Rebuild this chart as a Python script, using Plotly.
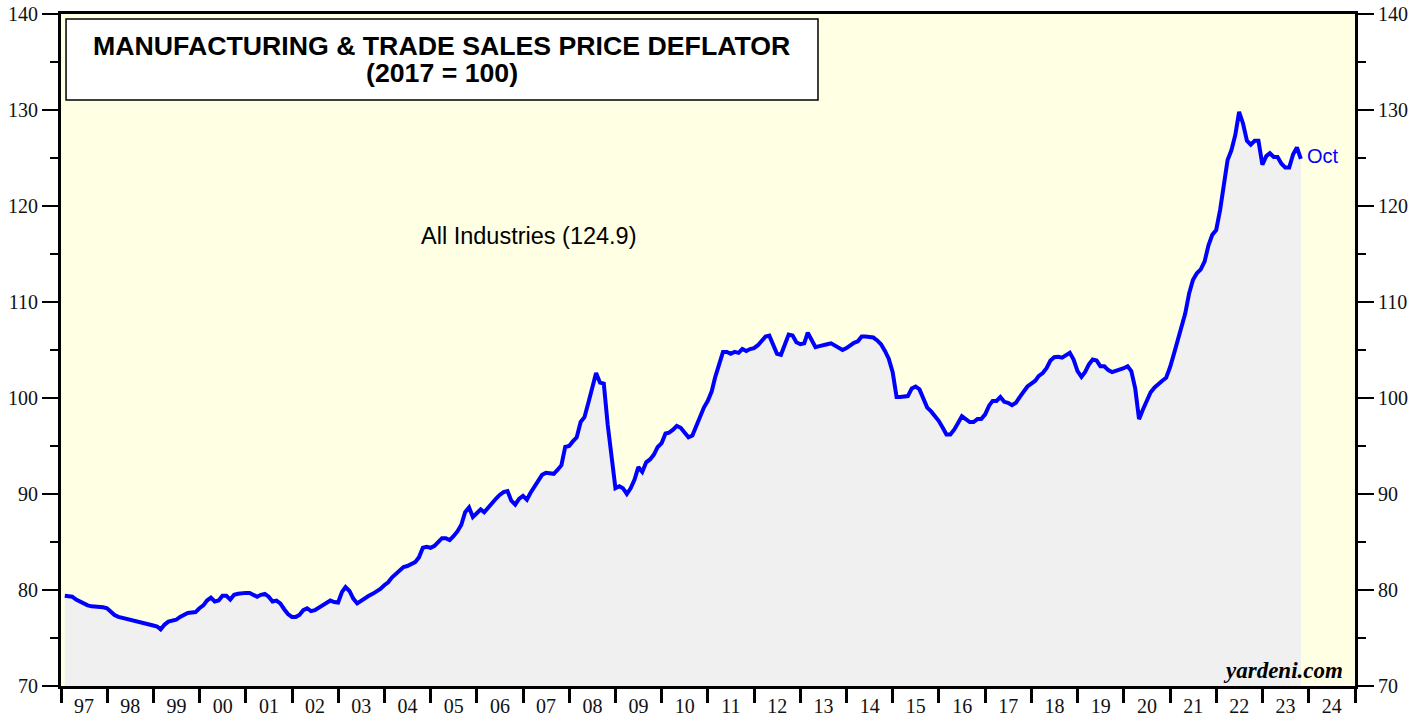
import pandas as pd
import plotly.graph_objects as go

# ---- data (monthly, Jan 1997 - Oct 2023) ----
start = "1997-01-31"
values = [
    79.4, 79.4, 79.3, 79.0, 78.8, 78.5, 78.4, 78.3, 78.3, 78.3, 78.2, 78.1,        # 1997
    77.7, 77.4, 77.2, 77.1, 76.95, 76.85, 76.7, 76.6, 76.5, 76.45, 76.4, 76.3,    # 1998
    76.2, 75.9, 76.4, 76.7, 76.75, 76.9, 77.2, 77.4, 77.6, 77.65, 77.7, 78.1,     # 1999
    78.4, 78.9, 79.2, 78.8, 78.9, 79.4, 79.4, 79.0, 79.5, 79.6, 79.7, 79.7,       # 2000
    79.7, 79.5, 79.3, 79.5, 79.6, 79.3, 78.8, 78.9, 78.6, 78.0, 77.5, 77.2,       # 2001
    77.2, 77.4, 77.9, 78.1, 77.8, 77.9, 78.15, 78.4, 78.7, 78.9, 78.75, 78.7,     # 2002
    79.8, 80.3, 79.9, 79.1, 78.6, 78.9, 79.2, 79.4, 79.6, 79.8, 80.1, 80.5,       # 2003
    80.8, 81.3, 81.7, 82.1, 82.4, 82.5, 82.7, 82.9, 83.4, 84.4, 84.5, 84.4,       # 2004
    84.6, 85.0, 85.4, 85.4, 85.2, 85.6, 86.1, 86.8, 88.1, 88.6, 87.6, 88.0,       # 2005
    88.4, 88.1, 88.6, 89.1, 89.5, 89.9, 90.2, 90.3, 89.3, 88.9, 89.5, 89.8,       # 2006
    89.4, 90.1, 90.8, 91.5, 92.0, 92.2, 92.2, 92.1, 92.5, 93.0, 94.9, 95.0,       # 2007
    95.5, 95.9, 97.5, 98.0, 99.5, 101.1, 102.6, 101.6, 101.5, 97.2, 93.7, 90.6,   # 2008
    90.8, 90.6, 90.0, 90.6, 91.5, 92.8, 92.3, 93.3, 93.6, 94.1, 94.9, 95.3,       # 2009
    96.3, 96.4, 96.7, 97.1, 96.9, 96.4, 95.9, 96.1, 97.1, 98.2, 99.0, 99.7,       # 2010
    100.7, 102.2, 103.6, 104.8, 104.8, 104.6, 104.8, 104.7, 105.1, 104.9, 105.1, 105.2,  # 2011
    105.5, 105.9, 106.4, 106.5, 105.6, 104.6, 104.5, 105.5, 106.6, 106.5, 105.8, 105.6,  # 2012
    105.7, 106.8, 106.0, 105.3, 105.4, 105.45, 105.6, 105.7, 105.5, 105.2, 105.0, 105.2, # 2013
    105.5, 105.75, 105.9, 106.4, 106.4, 106.4, 106.3, 106.0, 105.6, 104.9, 104.1, 102.7, # 2014
    100.1, 100.1, 100.1, 100.2, 101.0, 101.2, 100.9, 99.9, 99.0, 98.6, 98.1, 97.6,       # 2015
    96.9, 96.2, 96.2, 96.7, 97.4, 98.1, 97.8, 97.5, 97.5, 97.8, 97.8, 98.3,              # 2016
    99.2, 99.7, 99.7, 100.1, 99.6, 99.5, 99.25, 99.5, 100.1, 100.6, 101.2, 101.5,        # 2017
    101.8, 102.3, 102.6, 103.1, 103.9, 104.25, 104.3, 104.2, 104.4, 104.7, 104.0, 102.8, # 2018
    102.2, 102.7, 103.5, 104.0, 103.9, 103.3, 103.3, 102.9, 102.7, 102.8, 102.9, 103.1,  # 2019
    103.3, 102.8, 101.0, 97.8, 98.8, 99.8, 100.6, 101.1, 101.5, 101.8, 102.1, 103.2,     # 2020
    104.6, 106.0, 107.7, 108.8, 110.9, 112.3, 113.0, 113.4, 114.2, 115.9, 117.0, 117.5,  # 2021
    119.6, 122.0, 124.8, 125.8, 127.4, 129.8, 128.6, 126.8, 126.4, 126.8, 126.8, 124.3,  # 2022
    125.2, 125.5, 125.1, 125.1, 124.4, 124.0, 124.0, 125.4, 126.1, 124.9,                # 2023
]
year_labels = ["97", "98", "99", "00", "01", "02", "03", "04", "05", "06", "07", "08", "09",
               "10", "11", "12", "13", "14", "15", "16", "17", "18", "19", "20", "21", "22",
               "23", "24"]
first_year = 1997
last_label = "Oct"
series_name = "All Industries (124.9)"
title_line1 = "MANUFACTURING & TRADE SALES PRICE DEFLATOR"
title_line2 = "(2017 = 100)"

dates = pd.date_range(start, periods=len(values), freq="ME")
label_pos = [f"{first_year + i}-07-02" for i in range(len(year_labels))]

BLUE = "#0000ff"
SERIF = "Liberation Serif, Times New Roman, serif"
SANS = "Liberation Sans, Arial, sans-serif"

fig = go.Figure()
fig.add_trace(go.Scatter(
    x=dates, y=values, mode="lines", fill="tozeroy",
    fillcolor="#f0f0f0", line=dict(color=BLUE, width=4),
    hoverinfo="skip", showlegend=False,
))
fig.add_trace(go.Scatter(x=[dates[0]], y=[values[0]], yaxis="y2", mode="markers",
                         marker=dict(opacity=0), showlegend=False, hoverinfo="skip"))

xrange = [f"{first_year}-01-01", f"{first_year + len(year_labels)}-01-01"]

yaxis_common = dict(
    range=[70, 140], tickmode="linear", tick0=70, dtick=10,
    ticks="outside", ticklen=16, tickwidth=2, tickcolor="black",
    tickfont=dict(family=SERIF, size=20, color="#111"),
    showgrid=False, zeroline=False, automargin=False, ticklabeloverflow="allow",
    showline=True, linecolor="black", linewidth=3,
    minor=dict(tickmode="linear", tick0=70, dtick=5, ticks="outside",
               ticklen=8, tickwidth=2, tickcolor="black", showgrid=False),
)

fig.update_layout(
    width=1428, height=719,
    margin=dict(l=61, r=73, t=14, b=33),
    paper_bgcolor="white", plot_bgcolor="#ffffe3",
    xaxis=dict(
        type="date", range=xrange, automargin=False, ticklabeloverflow="allow",
        tickmode="array", tickvals=label_pos, ticktext=year_labels,
        ticks="", ticklen=0, ticklabelstandoff=0,
        tickfont=dict(family=SERIF, size=20, color="#111"),
        showgrid=False, zeroline=False,
        showline=True, linecolor="black", linewidth=3, mirror=True,
        minor=dict(tickmode="linear", tick0=xrange[0], dtick="M12",
                   ticks="outside", ticklen=14, tickwidth=3, tickcolor="black",
                   showgrid=False),
    ),
    yaxis=dict(**yaxis_common),
    yaxis2=dict(**yaxis_common, overlaying="y", side="right", anchor="x"),
)

# title box
fig.add_shape(type="rect", xref="paper", yref="paper",
              x0=0.0039, x1=0.585, y0=0.872, y1=0.9926,
              fillcolor="white", line=dict(color="black", width=1.5), layer="above")
fig.add_annotation(xref="paper", yref="paper", x=0.2944, y=(686 - 46) / 672,
                   text=f"<b>{title_line1}</b>", showarrow=False,
                   font=dict(family=SANS, size=26.7, color="black"),
                   xanchor="center", yanchor="middle")
fig.add_annotation(xref="paper", yref="paper", x=0.2944, y=(686 - 73) / 672,
                   text=f"<b>{title_line2}</b>", showarrow=False,
                   font=dict(family=SANS, size=26.7, color="black"),
                   xanchor="center", yanchor="middle")
fig.add_annotation(xref="paper", yref="paper", x=0.3617, y=0.6696,
                   text=series_name, showarrow=False,
                   font=dict(family=SANS, size=23.5, color="black"),
                   xanchor="center", yanchor="middle")
fig.add_annotation(x=dates[-1], y=values[-1], text=last_label, showarrow=False,
                   xanchor="left", yanchor="middle", xshift=4, yshift=3,
                   font=dict(family=SANS, size=20, color=BLUE))
fig.add_annotation(xref="paper", yref="paper", x=0.9923, y=0.0238,
                   text="<b><i>yardeni.com</i></b>", showarrow=False,
                   xanchor="right", yanchor="middle",
                   font=dict(family=SERIF, size=23, color="black"))

# remove the default 8px page margin so the figure fills the window exactly
fig.write_html("out.html",
               config={"displayModeBar": False},
               post_script="document.body.style.margin='0';document.body.style.overflow='hidden';")
